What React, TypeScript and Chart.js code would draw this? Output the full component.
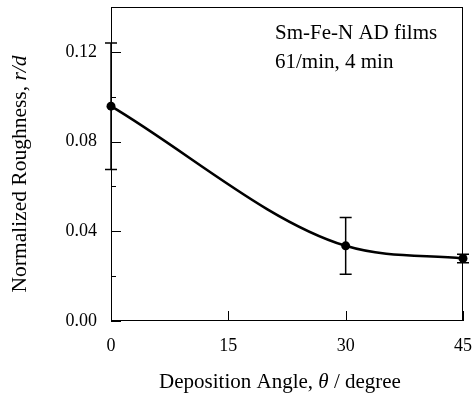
import { useEffect, useRef } from "react";
import { Chart, registerables } from "chart.js";

Chart.register(...registerables);

const angles = [0, 30, 45];
const roughness = [0.0958, 0.0335, 0.0279];
const roughnessErr = [0.0282, 0.0127, 0.0019];
const xTicks = [0, 15, 30, 45];
const yTicks = [0, 0.04, 0.08, 0.12];
const yMinorTicks = [0.02, 0.06, 0.1];
const annotationLines = ["Sm-Fe-N AD films", "61/min, 4 min"];
const xTitleParts: [string, boolean][] = [["Deposition Angle, ", false], ["θ", true], [" / degree", false]];
const yTitleParts: [string, boolean][] = [["Normalized Roughness, ", false], ["r/d", true]];

const FONT = '"Liberation Serif", "Times New Roman", serif';

function drawParts(ctx: CanvasRenderingContext2D, parts: [string, boolean][], size: number) {
  let total = 0;
  const widths = parts.map(([t, it]) => {
    ctx.font = `${it ? "italic " : ""}${size}px ${FONT}`;
    const w = ctx.measureText(t).width;
    total += w;
    return w;
  });
  let x = -total / 2;
  parts.forEach(([t, it], i) => {
    ctx.font = `${it ? "italic " : ""}${size}px ${FONT}`;
    ctx.fillText(t, x, 0);
    x += widths[i];
  });
}

const zeroPad = (s: any) => {
  s.paddingTop = 0;
  s.paddingBottom = 0;
  s.paddingLeft = 0;
  s.paddingRight = 0;
};

const decorPlugin = {
  id: "decor",
  beforeDatasetsDraw(chart: any) {
    const ctx = chart.ctx as CanvasRenderingContext2D;
    const xs = chart.scales.x;
    const ys = chart.scales.y;
    ctx.save();
    ctx.strokeStyle = "#000";
    ctx.lineWidth = 1.5;
    angles.forEach((a, i) => {
      const px = xs.getPixelForValue(a);
      const top = ys.getPixelForValue(roughness[i] + roughnessErr[i]);
      const bot = ys.getPixelForValue(roughness[i] - roughnessErr[i]);
      ctx.beginPath();
      ctx.moveTo(px, top);
      ctx.lineTo(px, bot);
      ctx.moveTo(px - 6, top);
      ctx.lineTo(px + 6, top);
      ctx.moveTo(px - 6, bot);
      ctx.lineTo(px + 6, bot);
      ctx.stroke();
    });
    ctx.restore();
  },
  afterDraw(chart: any) {
    const ctx = chart.ctx as CanvasRenderingContext2D;
    const { left, right, top, bottom } = chart.chartArea;
    const xs = chart.scales.x;
    const ys = chart.scales.y;
    ctx.save();
    ctx.strokeStyle = "#000";
    ctx.lineWidth = 1;
    ctx.strokeRect(left + 0.5, top + 0.5, right - left - 1, bottom - top - 1);
    ctx.beginPath();
    yTicks.forEach((v) => {
      const py = Math.round(ys.getPixelForValue(v)) + 0.5;
      ctx.moveTo(left, py);
      ctx.lineTo(left + 10, py);
    });
    yMinorTicks.forEach((v) => {
      const py = Math.round(ys.getPixelForValue(v)) + 0.5;
      ctx.moveTo(left, py);
      ctx.lineTo(left + 5, py);
    });
    xTicks.forEach((v) => {
      const px = Math.round(xs.getPixelForValue(v)) + 0.5;
      ctx.moveTo(px, bottom);
      ctx.lineTo(px, bottom - 10);
    });
    ctx.stroke();

    ctx.fillStyle = "#000";
    ctx.textBaseline = "middle";
    ctx.textAlign = "left";
    ctx.font = `21px ${FONT}`;
    annotationLines.forEach((t, i) => {
      ctx.fillText(t, 275, 33 + i * 29);
    });

    ctx.save();
    ctx.translate(280, 382);
    drawParts(ctx, xTitleParts, 21);
    ctx.restore();

    ctx.save();
    ctx.translate(20, 174);
    ctx.rotate(-Math.PI / 2);
    drawParts(ctx, yTitleParts, 21.5);
    ctx.restore();

    ctx.restore();
  },
};

export default function App() {
  const ref = useRef<HTMLCanvasElement>(null);
  useEffect(() => {
    if (!ref.current) return;
    const chart = new Chart(ref.current, {
      type: "line",
      data: {
        datasets: [
          {
            data: angles.map((a, i) => ({ x: a, y: roughness[i] })),
            borderColor: "#000",
            backgroundColor: "#000",
            borderWidth: 2.6,
            pointRadius: 4.5,
            pointBackgroundColor: "#000",
            pointBorderColor: "#000",
            pointBorderWidth: 0,
            cubicInterpolationMode: "monotone",
            clip: false,
          } as any,
        ],
      },
      options: {
        animation: false,
        responsive: false,
        devicePixelRatio: 1,
        layout: { autoPadding: false, padding: { top: 7, right: 11, left: 0, bottom: 0 } },
        plugins: { legend: { display: false }, tooltip: { enabled: false } },
        scales: {
          x: {
            type: "linear",
            min: 0,
            max: 45,
            grid: { display: false, drawTicks: false },
            border: { display: false },
            afterBuildTicks: (s: any) => {
              s.ticks = xTicks.map((v) => ({ value: v }));
            },
            afterFit: (s: any) => {
              s.height = 74;
              zeroPad(s);
            },
            ticks: {
              color: "#000",
              font: { family: FONT, size: 18 },
              padding: 14,
              maxRotation: 0,
              autoSkip: false,
            },
          },
          y: {
            type: "linear",
            min: 0,
            max: 0.14,
            grid: { display: false, drawTicks: false },
            border: { display: false },
            afterBuildTicks: (s: any) => {
              s.ticks = yTicks.map((v) => ({ value: v }));
            },
            afterFit: (s: any) => {
              s.width = 111;
              zeroPad(s);
            },
            ticks: {
              color: "#000",
              font: { family: FONT, size: 18 },
              padding: 14,
              autoSkip: false,
              callback: (v: any) => Number(v).toFixed(2),
            },
          },
        },
      },
      plugins: [decorPlugin],
    });
    return () => chart.destroy();
  }, []);
  return (
    <div style={{ position: "absolute", left: 0, top: 0, width: 474, height: 395, background: "#fff" }}>
      <canvas ref={ref} width={474} height={395} />
    </div>
  );
}
